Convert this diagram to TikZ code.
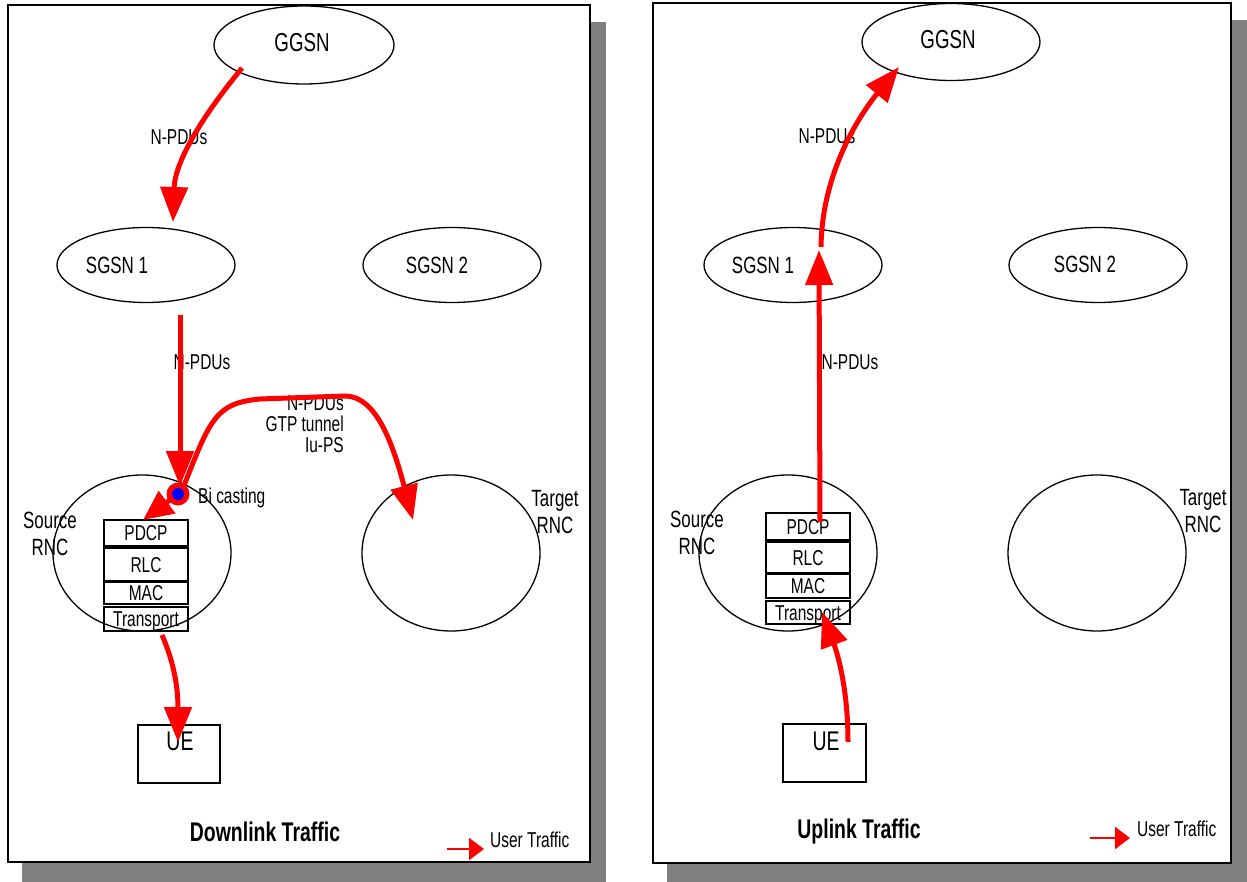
\documentclass[tikz,border=0pt]{standalone}
\usepackage{fontspec}
\setmainfont[FakeStretch=0.72]{Liberation Sans}
\usetikzlibrary{shapes.geometric,arrows.meta}
\definecolor{shadowgray}{RGB}{128,128,128}
\begin{document}
\begin{tikzpicture}[x=1pt,y=-1pt,
  panel/.style={draw=black,line width=1.6pt,fill=white},
  shade/.style={fill=shadowgray,draw=none},
  netnode/.style={ellipse,draw,line width=1.3pt,minimum width=178pt,minimum height=75pt,inner sep=0pt},
  rnc/.style={ellipse,draw,line width=1.3pt,minimum width=178pt,minimum height=156pt,inner sep=0pt},
  layer/.style={draw,line width=1.3pt,minimum width=84pt,inner sep=0pt,font=\fontsize{21.5}{22}\selectfont,text height=15.3pt,text depth=0pt},
  uebox/.style={draw,line width=1.3pt,minimum width=82pt,minimum height=58pt,inner sep=0pt},
  lbl/.style={inner sep=0pt,font=\fontsize{21.5}{21}\selectfont},
  biglbl/.style={inner sep=0pt,font=\fontsize{23.5}{27}\selectfont,align=center},
  title/.style={inner sep=0pt,font=\bfseries\fontsize{27}{28}\selectfont},
  flow/.style={draw=red,line width=5pt,-{Triangle[length=35pt,width=27pt]}},
  legendarrow/.style={draw=red,line width=2.5pt,-{Triangle[length=15pt,width=22pt]}}
]
\useasboundingbox (0,0) rectangle (1247,882);

% ---------------- panels ----------------
\fill[shade] (22,22) rectangle (606,882);
\draw[panel] (8,5) rectangle (590,862);
\fill[shade] (667,20) rectangle (1247,882);
\draw[panel] (653,3) rectangle (1231,863);

% ================= LEFT: Downlink =================
\node[netnode,minimum width=180pt,minimum height=78pt] (lggsn) at (304,45) {};
\node[lbl,font=\fontsize{26}{26}\selectfont] (lggsnt) at (302,43) {GGSN};
\node[netnode] (lsgsn1) at (146,265) {};
\node[lbl,font=\fontsize{23.5}{24}\selectfont] (lsgsn1t) at (117,265) {SGSN 1};
\node[netnode] (lsgsn2) at (452,265) {};
\node[lbl,font=\fontsize{23.5}{24}\selectfont] (lsgsn2t) at (437,265) {SGSN 2};
\node[rnc] (lsrc) at (142,553) {};
\node[rnc] (ltgt) at (451,553) {};
\node[biglbl] (lsrct) at (50,534) {Source\\RNC};
\node[biglbl] (ltgtt) at (555,512) {Target\\RNC};

\node[layer,minimum height=26pt] (lpdcp) at (146,533) {PDCP};
\node[layer,minimum height=33pt] (lrlc) at (146,564.5) {RLC};
\node[layer,minimum height=22pt] (lmac) at (146,593) {MAC};
\node[layer,minimum height=24pt] (ltrans) at (146,619) {Transport};

\node[uebox] (lue) at (179,754) {};
\node[lbl,font=\fontsize{27}{26}\selectfont] (luet) at (180,741) {UE};

\node[lbl] (ln1) at (179,137) {N-PDUs};
\node[lbl] (ln2) at (202,362) {N-PDUs};
\node[lbl,align=right,anchor=north east] (ltun) at (344,396) {N-PDUs\\GTP tunnel\\Iu-PS};
\node[lbl,anchor=west] (lbic) at (198,498) {Bi casting};

\coordinate (lggsn-out) at (242,68);
\coordinate (lsgsn1-in) at (173,222);
\coordinate (lsgsn1-out) at (180,315);
\coordinate (lbi) at (178,494);
\coordinate (lbi-top) at (180,486);
\coordinate (lpdcp-in) at (143,520);
\coordinate (lbi-start) at (183,488);
\coordinate (ltgt-in) at (413,520);
\coordinate (ltrans-out) at (162,635);
\coordinate (lue-in) at (178,742);

\draw[flow] (lggsn-out) .. controls (205,113) and (175,160) .. (lsgsn1-in);
\draw[flow] (lsgsn1-out) -- (lbi-top);
\draw[flow] (lbi-start) .. controls (210,420) and (215,403) .. (260,399)
   -- (345,396) .. controls (375,396) and (392,440) .. (ltgt-in);
\draw[flow,-{Triangle[length=30pt,width=27pt]}] (lbi) -- (lpdcp-in);
\node[circle,fill=red,minimum size=23pt,inner sep=0pt] (lbicirc) at (lbi) {};
\node[circle,fill=blue,minimum size=12pt,inner sep=0pt] (lbidot) at (lbi) {};
\draw[flow] (ltrans-out) .. controls (175,665) and (178,690) .. (lue-in);

\node[title] (ltitle) at (265,832) {Downlink Traffic};
\coordinate (lleg-a) at (447,849);
\coordinate (lleg-b) at (484,849);
\draw[legendarrow] (lleg-a) -- (lleg-b);
\node[lbl,anchor=west] (llegt) at (490,840) {User Traffic};

% ================= RIGHT: Uplink =================
\node[netnode,minimum height=77pt] (rggsn) at (951,42) {};
\node[lbl,font=\fontsize{26}{26}\selectfont] (rggsnt) at (948,40) {GGSN};
\node[netnode] (rsgsn1) at (793,265) {};
\node[lbl,font=\fontsize{23.5}{24}\selectfont] (rsgsn1t) at (763,265) {SGSN 1};
\node[netnode] (rsgsn2) at (1098,265) {};
\node[lbl,font=\fontsize{23.5}{24}\selectfont] (rsgsn2t) at (1085,264) {SGSN 2};
\node[rnc] (rsrc) at (788,553) {};
\node[rnc] (rtgt) at (1097,553) {};
\node[biglbl] (rsrct) at (697,533) {Source\\RNC};
\node[biglbl] (rtgtt) at (1203,511) {Target\\RNC};

\node[layer,minimum height=27pt] (rpdcp) at (808,526.5) {PDCP};
\node[layer,minimum height=31pt] (rrlc) at (808,557.5) {RLC};
\node[layer,minimum height=24pt] (rmac) at (808,586) {MAC};
\node[layer,minimum height=23pt] (rtrans) at (808,612.5) {Transport};

\node[uebox,minimum width=83pt] (rue) at (824.5,753) {};
\node[lbl,font=\fontsize{27}{26}\selectfont] (ruet) at (826,741) {UE};

\node[lbl] (rn1) at (827,136) {N-PDUs};
\node[lbl] (rn2) at (850,362) {N-PDUs};

\coordinate (rue-out) at (848,742);
\coordinate (rtrans-in) at (822,612);
\coordinate (rpdcp-out) at (820,522);
\coordinate (rsgsn1-in) at (819,250);
\coordinate (rsgsn1-out) at (821,247);
\coordinate (rggsn-in) at (899,67);

\draw[flow] (rue-out) .. controls (848,690) and (838,655) .. (rtrans-in);
\draw[flow] (rpdcp-out) -- (rsgsn1-in);
\draw[flow] (rsgsn1-out) .. controls (822,170) and (862,112) .. (rggsn-in);

\node[title] (rtitle) at (859,832) {Uplink Traffic};
\coordinate (rleg-a) at (1090,838);
\coordinate (rleg-b) at (1130,838);
\draw[legendarrow] (rleg-a) -- (rleg-b);
\node[lbl,anchor=west] (rlegt) at (1137,829) {User Traffic};
\end{tikzpicture}
\end{document}
